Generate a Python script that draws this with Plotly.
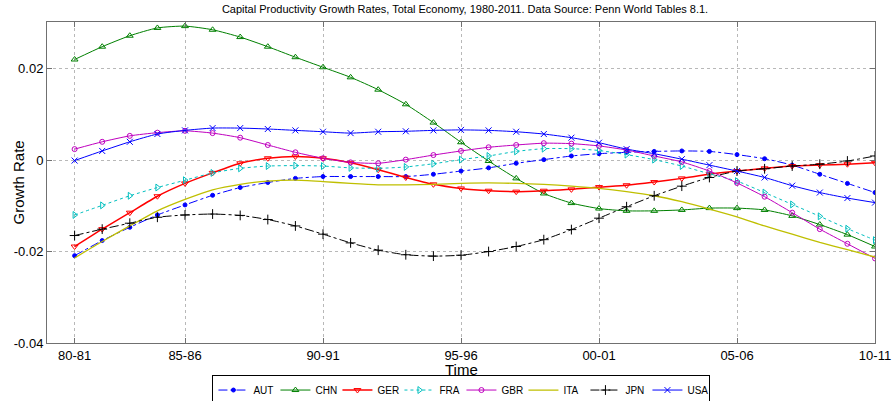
import plotly.graph_objects as go

periods = list(range(1, 31))
tick_pos = [1, 5, 10, 15, 20, 25, 30]
tick_labels = ["80-81", "85-86", "90-91", "95-96", "00-01", "05-06", "10-11"]

AUT = [-0.0209, -0.0176, -0.0147, -0.0120, -0.0098, -0.0077, -0.0060, -0.0049, -0.0040, -0.0036,
       -0.0036, -0.0036, -0.0036, -0.0031, -0.0024, -0.0017, -0.0007, 0.0001, 0.0009, 0.0014,
       0.0017, 0.0019, 0.0020, 0.0019, 0.0012, 0.0003, -0.0011, -0.0031, -0.0051, -0.0071]
CHN = [0.0220, 0.0248, 0.0272, 0.0289, 0.0293, 0.0285, 0.0269, 0.0248, 0.0225, 0.0203,
       0.0181, 0.0154, 0.0122, 0.0082, 0.0039, -0.0002, -0.0040, -0.0073, -0.0094, -0.0106,
       -0.0111, -0.0111, -0.0109, -0.0105, -0.0105, -0.0109, -0.0122, -0.0141, -0.0163, -0.0189]
GER = [-0.0189, -0.0151, -0.0115, -0.0079, -0.0051, -0.0028, -0.0007, 0.0004, 0.0008, 0.0004,
       -0.0006, -0.0021, -0.0038, -0.0053, -0.0062, -0.0067, -0.0069, -0.0067, -0.0064, -0.0059,
       -0.0055, -0.0048, -0.0040, -0.0031, -0.0024, -0.0018, -0.0013, -0.0011, -0.0009, -0.0006]
FRA = [-0.0120, -0.0099, -0.0078, -0.0060, -0.0044, -0.0028, -0.0018, -0.0013, -0.0012, -0.0013,
       -0.0017, -0.0018, -0.0015, -0.0008, 0.0001, 0.0009, 0.0019, 0.0025, 0.0025, 0.0021,
       0.0012, 0.0001, -0.0013, -0.0030, -0.0046, -0.0071, -0.0097, -0.0123, -0.0150, -0.0175]
GBR = [0.0024, 0.0040, 0.0053, 0.0060, 0.0064, 0.0059, 0.0049, 0.0033, 0.0017, 0.0004,
       -0.0005, -0.0007, 0.0001, 0.0011, 0.0020, 0.0028, 0.0033, 0.0037, 0.0036, 0.0031,
       0.0022, 0.0009, -0.0004, -0.0024, -0.0050, -0.0080, -0.0115, -0.0151, -0.0183, -0.0215]
ITA = [-0.0214, -0.0178, -0.0144, -0.0111, -0.0086, -0.0065, -0.0053, -0.0046, -0.0044, -0.0047,
       -0.0051, -0.0054, -0.0054, -0.0053, -0.0051, -0.0050, -0.0051, -0.0053, -0.0057, -0.0062,
       -0.0069, -0.0078, -0.0091, -0.0107, -0.0124, -0.0144, -0.0162, -0.0180, -0.0196, -0.0212]
JPN = [-0.0165, -0.0151, -0.0138, -0.0125, -0.0120, -0.0118, -0.0121, -0.0130, -0.0144, -0.0162,
       -0.0181, -0.0197, -0.0207, -0.0210, -0.0208, -0.0200, -0.0189, -0.0174, -0.0152, -0.0127,
       -0.0102, -0.0078, -0.0057, -0.0038, -0.0024, -0.0019, -0.0013, -0.0009, -0.0002, 0.0009]
USA = [-0.0001, 0.0020, 0.0040, 0.0057, 0.0065, 0.0070, 0.0070, 0.0068, 0.0065, 0.0062,
       0.0059, 0.0062, 0.0063, 0.0065, 0.0066, 0.0065, 0.0062, 0.0057, 0.0049, 0.0038,
       0.0024, 0.0014, 0.0002, -0.0011, -0.0024, -0.0038, -0.0056, -0.0071, -0.0083, -0.0093]

series = [
    ("AUT", AUT, "#0000ff", "dashdot", "circle", 4, 1.0),
    ("CHN", CHN, "#008000", "solid", "triangle-up-open", 6, 1.0),
    ("GER", GER, "#ff0000", "solid", "triangle-down-open", 6, 1.5),
    ("FRA", FRA, "#00bfbf", "dot", "triangle-right-open", 6, 1.0),
    ("GBR", GBR, "#bf00bf", "solid", "circle-open", 5, 1.0),
    ("ITA", ITA, "#bfbf00", "solid", None, 0, 1.3),
    ("JPN", JPN, "#000000", "dashdot", "cross-thin-open", 7, 1.0),
    ("USA", USA, "#0000ff", "solid", "x-thin-open", 6, 1.0),
]

fig = go.Figure()
for name, vals, color, dash, sym, size, lw in series:
    if sym is None:
        mode = "lines"
        marker = None
    else:
        mode = "lines+markers"
        marker = dict(symbol=sym, size=size, color=color, line=dict(color=color, width=1))
    fig.add_trace(go.Scatter(
        x=periods, y=vals, name=name, mode=mode,
        line=dict(color=color, dash=dash, width=lw, shape="spline", smoothing=0.6),
        marker=marker,
    ))

axis_common = dict(
    showline=True, linecolor="#707070", linewidth=1, mirror="ticks",
    ticks="inside", ticklen=5, tickcolor="#707070",
    showgrid=True, gridcolor="#b8b8b8", griddash="dot", gridwidth=1,
    zeroline=False, automargin=False,
    tickfont=dict(family="Arial", size=13, color="black"),
)

fig.update_xaxes(range=[0, 30], tickvals=tick_pos, ticktext=tick_labels, **axis_common)
fig.update_yaxes(range=[-0.04, 0.0302], tickvals=[-0.04, -0.02, 0, 0.02],
                 ticktext=["-0.04", "-0.02", "0", "0.02"], **axis_common)

fig.add_annotation(text="Growth Rate", xref="paper", yref="paper", x=-0.035, y=0.5,
                   xanchor="center", yanchor="middle", textangle=-90, showarrow=False,
                   font=dict(family="Arial", size=15, color="black"))
fig.add_annotation(text="Time", xref="paper", yref="paper", x=0.5, y=-0.082,
                   xanchor="center", yanchor="middle", showarrow=False,
                   font=dict(family="Arial", size=15, color="black"))

fig.update_layout(
    width=896, height=401,
    margin=dict(l=47, r=21, t=22, b=58),
    paper_bgcolor="white", plot_bgcolor="white",
    title=dict(text="Capital Productivity Growth Rates, Total Economy, 1980-2011. Data Source: Penn World Tables 8.1.",
               x=0.519, xanchor="center", y=0.986, yanchor="top", pad=dict(t=0, b=0),
               font=dict(family="Arial", size=11, color="black")),
    legend=dict(orientation="h", x=0.515, xanchor="center", xref="container",
                y=0.066, yanchor="top", yref="container",
                bordercolor="black", borderwidth=1, bgcolor="white",
                font=dict(family="Arial", size=10, color="black"),
                itemwidth=30, tracegroupgap=0, itemsizing="trace",
                entrywidth=17, entrywidthmode="pixels"),
    showlegend=True,
)

fig.write_html("out.html", post_script="document.body.style.margin='0';",
               config={"displayModeBar": False})
